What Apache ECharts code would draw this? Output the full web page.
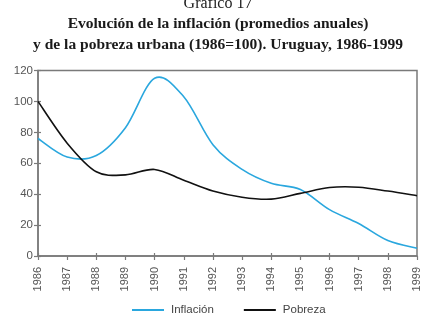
<!DOCTYPE html>
<html>
<head>
<meta charset="utf-8">
<script src="https://cdn.jsdelivr.net/npm/echarts@6/dist/echarts.min.js"></script>
<style>
  html, body { margin: 0; padding: 0; background: #fff; }
  #chart { width: 436px; height: 318px; }
</style>
</head>
<body>
<div id="chart"></div>
<script>
// Chart data
const years = ['1986', '1987', '1988', '1989', '1990', '1991', '1992',
               '1993', '1994', '1995', '1996', '1997', '1998', '1999'];
const inflacion = [76, 64, 65, 83, 115, 103, 72, 56, 47, 43, 30, 21, 10, 5];
const pobreza = [100, 73, 54.5, 52.5, 56, 49, 42, 38, 36.8, 40.5, 44.3, 44.5, 42, 39];
const yTicks = [0, 20, 40, 60, 80, 100, 120];

const axisGray = '#7a7a7a';
const labelGray = '#555';

// Catmull-Rom curve through the points, mapped through the chart's axes
function splineSeries(name, values, color) {
    return {
        name: name,
        type: 'custom',
        color: color,
        itemStyle: { color: color },
        data: values.map((v, i) => [i, v]),
        renderItem: function(params, api) {
            if (params.dataIndex !== 0) return null;
            const pts = values.map((v, i) => api.coord([i, v]));
            let d = 'M' + pts[0][0] + ' ' + pts[0][1];
            for (let i = 0; i < pts.length - 1; i++) {
                const p0 = pts[Math.max(i - 1, 0)];
                const p1 = pts[i];
                const p2 = pts[i + 1];
                const p3 = pts[Math.min(i + 2, pts.length - 1)];
                const c1x = p1[0] + (p2[0] - p0[0]) / 6;
                const c1y = p1[1] + (p2[1] - p0[1]) / 6;
                const c2x = p2[0] - (p3[0] - p1[0]) / 6;
                const c2y = p2[1] - (p3[1] - p1[1]) / 6;
                d += ' C' + c1x + ' ' + c1y + ' ' + c2x + ' ' + c2y + ' ' + p2[0] + ' ' + p2[1];
            }
            return {
                type: 'path',
                shape: { pathData: d },
                style: { fill: 'none', stroke: color, lineWidth: 1.6 }
            };
        }
    };
}

document.addEventListener('DOMContentLoaded', function() {
    const myChart = echarts.init(document.getElementById('chart'), null, { renderer: 'canvas' });

    const titleFont = { fontFamily: 'Liberation Serif', fontWeight: 'bold', fontSize: 15.5, color: '#1a1a1a' };

    const option = {
        animation: false,
        textStyle: { fontFamily: 'Liberation Sans' },
        title: [
            {
                text: 'Gráfico 17',
                left: 'center', top: -9,
                textStyle: { fontFamily: 'Liberation Serif', fontWeight: 'normal', fontSize: 16, color: '#222' }
            },
            { text: 'Evolución de la inflación (promedios anuales)', left: 'center', top: 11, textStyle: titleFont },
            { text: 'y de la pobreza urbana (1986=100). Uruguay, 1986-1999', left: 'center', top: 32, textStyle: titleFont }
        ],
        legend: {
            top: 299, left: 127,
            itemWidth: 32, itemHeight: 2, itemGap: 30,
            icon: 'rect',
            textStyle: { fontSize: 11.5, color: '#444', padding: [0, 0, 0, 2] },
            data: ['Inflación', 'Pobreza']
        },
        grid: { left: 38, right: 19, top: 70.5, bottom: 62, show: true,
                borderColor: axisGray, borderWidth: 1.5 },
        xAxis: [
            {
                type: 'category', data: years, boundaryGap: false,
                axisLine: { lineStyle: { color: axisGray, width: 1.5 } },
                axisTick: { show: true, length: 4, lineStyle: { color: axisGray, width: 1.2 } },
                axisLabel: { rotate: 90, fontSize: 11, color: labelGray, margin: 11 }
            },
            {
                type: 'category', data: years, boundaryGap: false, position: 'bottom',
                axisLine: { show: false },
                axisTick: { show: true, inside: true, length: 3, lineStyle: { color: axisGray, width: 1.2 } },
                axisLabel: { show: false }
            }
        ],
        yAxis: [
            {
                type: 'value', min: yTicks[0], max: yTicks[yTicks.length - 1], interval: 20,
                axisLine: { show: true, lineStyle: { color: axisGray, width: 1.5 } },
                axisTick: { show: true, length: 4, lineStyle: { color: axisGray, width: 1.2 } },
                splitLine: { show: false },
                axisLabel: { fontSize: 11.5, color: labelGray, margin: 5 }
            },
            {
                type: 'value', min: yTicks[0], max: yTicks[yTicks.length - 1], interval: 20, position: 'left',
                axisLine: { show: false },
                axisTick: { show: true, inside: true, length: 3, lineStyle: { color: axisGray, width: 1.2 } },
                splitLine: { show: false },
                axisLabel: { show: false }
            }
        ],
        series: [
            splineSeries('Inflación', inflacion, '#2aa7de'),
            splineSeries('Pobreza', pobreza, '#111')
        ]
    };

    myChart.setOption(option);
});
</script>
</body>
</html>
